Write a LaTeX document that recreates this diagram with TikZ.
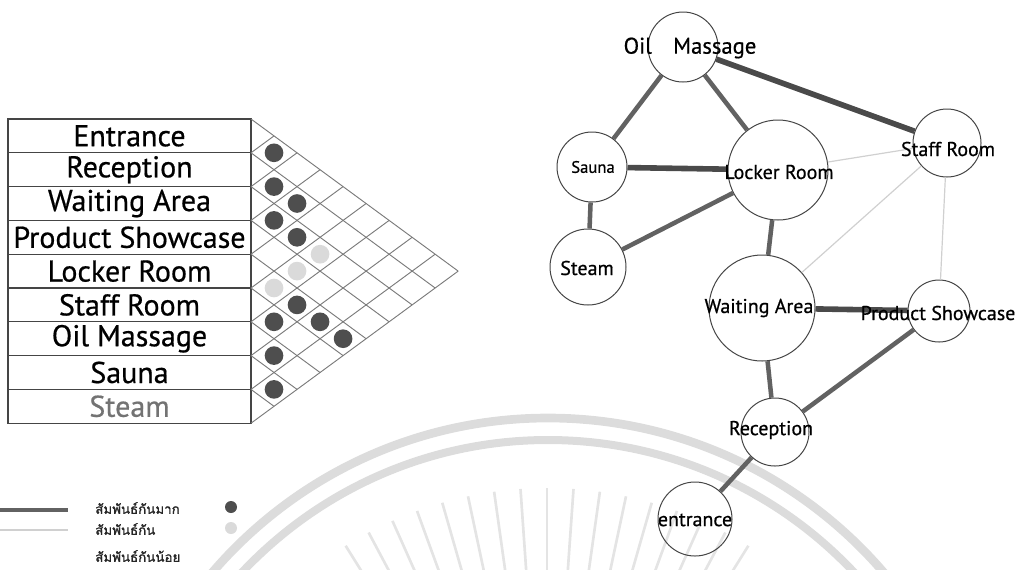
\documentclass[tikz,border=0pt]{standalone}
\usepackage{fontspec}
\setmainfont{PT Sans}[FakeBold=0.6]
\newfontfamily\labelfont{PT Sans}[FakeBold=0.6]
\newfontfamily\thaifont[Script=Thai,FakeBold=1.2]{Loma}
\definecolor{seal}{HTML}{DCDCDC}
\definecolor{rayc}{HTML}{E4E4E4}
\definecolor{gridc}{HTML}{7A7A7A}
\definecolor{boxc}{HTML}{454545}
\definecolor{dotdark}{HTML}{4E4E4E}
\definecolor{dotlight}{HTML}{DADADA}
\definecolor{linkc}{HTML}{626262}
\definecolor{linkdark}{HTML}{4A4A4A}
\definecolor{linkweak}{HTML}{D0D0D0}
\begin{document}
\begin{tikzpicture}[x=0.75pt,y=-0.75pt,
  rowbox/.style={draw=boxc, line width=0.9pt, minimum width=182.25pt,
    minimum height=25.35pt, inner sep=0pt, font=\labelfont\fontsize{22.5}{22.5}\selectfont},
  gridline/.style={draw=gridc, line width=0.7pt},
  darkdot/.style={circle, fill=dotdark, minimum size=14pt, inner sep=0pt},
  lightdot/.style={circle, fill=dotlight, minimum size=14pt, inner sep=0pt},
  bub/.style={circle, draw=boxc, line width=0.75pt, inner sep=0pt},
  gtext/.style={inner sep=0pt, font=\labelfont\fontsize{15}{15}\selectfont},
  strong/.style={draw=linkc, line width=3.4pt},
  stronger/.style={draw=linkdark, line width=4.2pt},
  weak/.style={draw=linkweak, line width=0.9pt},
  thai/.style={inner sep=0pt, anchor=west, text=black!85, font=\thaifont\fontsize{10}{10}\selectfont},
]
\useasboundingbox (0,0) rectangle (1016,569);

% faint seal in the background: two rings and a fan of rays
\begin{scope}
  \clip (0,0) rectangle (1016,569);
  \draw[seal, line width=6.5pt] (548,860) circle[radius=442];
  \draw[seal, line width=6pt] (548,860) circle[radius=420];
  \foreach \a in {238,242,...,302}
    \draw[rayc, line width=2pt, shift={(547,868)}] (\a:380) -- (\a:270);
\end{scope}

% relationship table: one box per room
\foreach \lab [count=\k from 0] in {Entrance,Reception,Waiting Area,Product Showcase,
    Locker Room,Staff Room,Oil Massage,Sauna}
  \node[rowbox] (row\k) at (129.5,{119+33.8*(\k+0.5)}) {\lab};
\node[rowbox, text=black!55] (row8) at (129.5,{119+33.8*8.5}) {Steam};

% diagonal grid of pairs
\foreach \k in {0,...,8}
  \draw[gridline] (251,{119+33.8*\k}) -- ++({(9-\k)*23.02},{(9-\k)*16.9});
\foreach \k in {1,...,9}
  \draw[gridline] (251,{119+33.8*\k}) -- ++({\k*23.02},{-\k*16.9});

% marks for related pairs
\foreach \i/\j in {0/1,1/2,1/3,2/3,2/4,4/6,5/6,4/7,4/8,6/7,7/8}
  \node[darkdot] (d\i\j) at ({251+(\j-\i)*23.02},{119+33.8*(\i+\j+1)/2}) {};
\foreach \i/\j in {2/5,3/5,4/5}
  \node[lightdot] (d\i\j) at ({251+(\j-\i)*23.02},{119+33.8*(\i+\j+1)/2}) {};

% legend
\coordinate (la1) at (0,510);
\coordinate (lb1) at (68,510);
\coordinate (la2) at (0,530);
\coordinate (lb2) at (68,530);
\draw[strong] (la1) -- (lb1);
\draw[weak] (la2) -- (lb2);
\node[thai] (lt1) at (95,508) {สัมพันธ์กันมาก};
\node[thai] (lt2) at (95,529) {สัมพันธ์กัน};
\node[thai] (lt3) at (95,556) {สัมพันธ์กันน้อย};
\node[darkdot, minimum size=9pt] (ld1) at (231,507) {};
\node[lightdot, minimum size=9pt] (ld2) at (231,528) {};

% bubble diagram of the rooms
\node[bub, minimum size=52.5pt] (om) at (683,47) {};
\node[bub, minimum size=52.5pt] (sauna) at (592,167) {};
\node[bub, minimum size=75pt] (locker) at (778,170) {};
\node[bub, minimum size=51pt] (staff) at (947,143) {};
\node[bub, minimum size=57pt] (steam) at (588,267) {};
\node[bub, minimum size=79.5pt] (waiting) at (762,308) {};
\node[bub, minimum size=46.5pt] (product) at (939,311) {};
\node[bub, minimum size=51pt] (reception) at (775,432) {};
\node[bub, minimum size=55.5pt] (entrance) at (695,519) {};

\draw[strong] (om) -- (sauna);
\draw[strong] (om) -- (locker);
\draw[stronger] (om) -- (staff);
\draw[stronger] (sauna) -- (locker);
\draw[strong] (sauna) -- (steam);
\draw[strong] (steam) -- (locker);
\draw[strong] (locker) -- (waiting);
\draw[weak] (locker) -- (staff);
\draw[weak] (staff) -- (waiting);
\draw[weak] (staff) -- (product);
\draw[stronger] (waiting) -- (product);
\draw[strong] (waiting) -- (reception);
\draw[strong] (product) -- (reception);
\draw[strong] (reception) -- (entrance);

% room names on top of the links
\node[gtext, font=\labelfont\fontsize{17}{17}\selectfont] (om-t) at (690,48) {Oil\hspace{16pt}Massage};
\node[gtext, font=\labelfont\fontsize{12.5}{12.5}\selectfont] (sauna-t) at (593,167) {Sauna};
\node[gtext] (locker-t) at (779,172) {Locker Room};
\node[gtext] (staff-t) at (948,149) {Staff Room};
\node[gtext] (steam-t) at (587,268) {Steam};
\node[gtext] (waiting-t) at (759,308) {Waiting Area};
\node[gtext] (product-t) at (938,313) {Product Showcase};
\node[gtext] (reception-t) at (771,430) {Reception};
\node[gtext] (entrance-t) at (695,520) {entrance};
\end{tikzpicture}
\end{document}
